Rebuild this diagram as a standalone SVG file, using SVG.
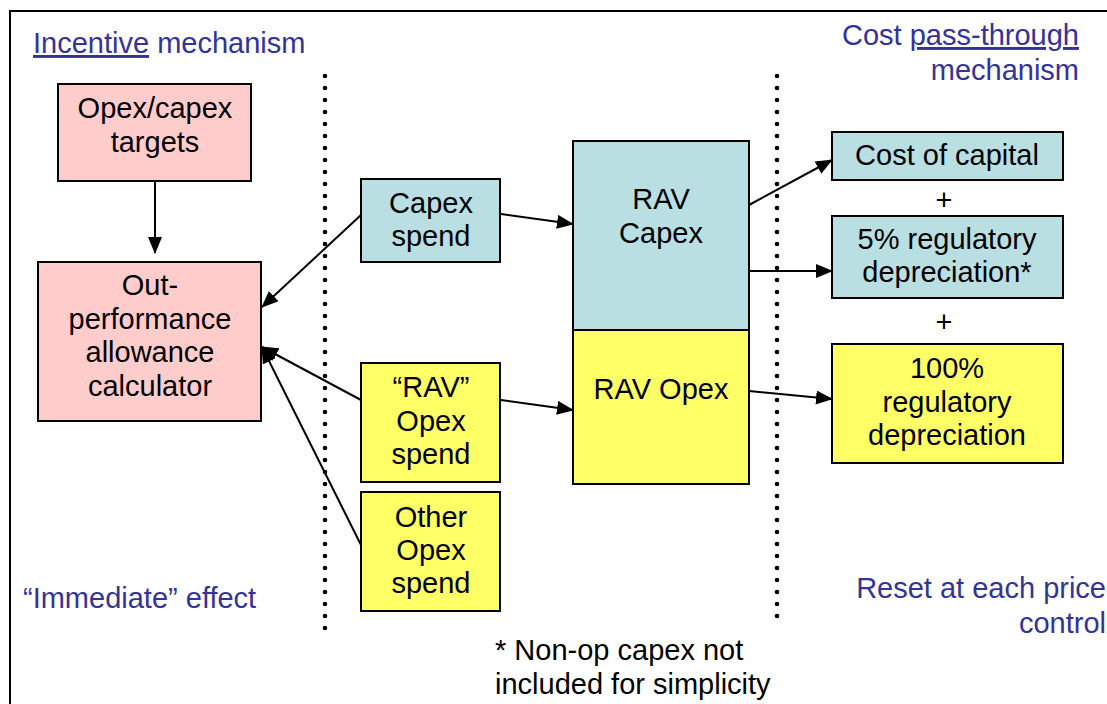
<svg xmlns="http://www.w3.org/2000/svg" width="1107" height="704" viewBox="0 0 1107 704">
<style>
text{font-family:"Liberation Sans",Arial,sans-serif;font-size:29px;fill:#000}
.c{text-anchor:middle}
.b{fill:#333399}
.r{text-anchor:end}
.box{stroke:#000;stroke-width:2}
.pink{fill:#FFCCCC}
.blue{fill:#B9DFE2}
.yel{fill:#FFFF66}
.dot{stroke:#000;stroke-width:4.6;stroke-linecap:round;stroke-dasharray:0 12;fill:none}
.con{stroke:#000;stroke-width:2;fill:none;marker-end:url(#ah)}
</style>
<defs>
<marker id="ah" markerUnits="userSpaceOnUse" markerWidth="18" markerHeight="14" refX="16" refY="7" orient="auto">
<path d="M0,0 L17,7 L0,14 z" fill="#000"/>
</marker>
</defs>
<rect width="1107" height="704" fill="#fff"/>
<g id="frame">
<line x1="9" y1="11" x2="1107" y2="11" stroke="#000" stroke-width="2"/>
<line x1="10" y1="10" x2="10" y2="704" stroke="#000" stroke-width="2"/>
<line class="dot" x1="325" y1="76" x2="325" y2="640"/>
<line class="dot" x1="777" y1="76" x2="777" y2="628"/>
</g>
<g id="labels">
<text x="33" y="53" class="b"><tspan text-decoration="underline">Incentive</tspan> mechanism</text>
<text x="1079" y="45" class="b r">Cost <tspan text-decoration="underline">pass-through</tspan></text>
<text x="1079" y="80" class="b r">mechanism</text>
<text x="23" y="608" class="b">“Immediate” effect</text>
<text x="1106" y="598" class="b r">Reset at each price</text>
<text x="1106" y="633" class="b r">control</text>
<text x="495" y="660">* Non-op capex not</text>
<text x="495" y="694">included for simplicity</text>
<text x="944" y="210" class="c">+</text>
<text x="944" y="332" class="c">+</text>
</g>
<g id="connectors">
<line class="con" x1="155" y1="181" x2="155" y2="253"/>
<line class="con" x1="361" y1="215" x2="262" y2="307"/>
<line class="con" x1="361" y1="400" x2="262" y2="347"/>
<line class="con" x1="361" y1="545" x2="262" y2="347"/>
<line class="con" x1="501" y1="214" x2="573" y2="224"/>
<line class="con" x1="501" y1="400" x2="573" y2="410"/>
<line class="con" x1="749" y1="205" x2="832" y2="160"/>
<line class="con" x1="749" y1="271" x2="832" y2="271"/>
<line class="con" x1="749" y1="391" x2="832" y2="399"/>
</g>
<g id="targets">
<rect class="box pink" x="58" y="84" width="193" height="97"/>
<text class="c" x="155" y="118">Opex/capex</text>
<text class="c" x="155" y="152">targets</text>
</g>
<g id="calculator">
<rect class="box pink" x="38" y="262" width="223" height="159"/>
<text class="c" x="150" y="295">Out-</text>
<text class="c" x="150" y="329">performance</text>
<text class="c" x="150" y="362">allowance</text>
<text class="c" x="150" y="396">calculator</text>
</g>
<g id="capex-spend">
<rect class="box blue" x="361" y="179" width="139" height="83"/>
<text class="c" x="431" y="213">Capex</text>
<text class="c" x="431" y="246">spend</text>
</g>
<g id="rav-opex-spend">
<rect class="box yel" x="361" y="363" width="139" height="119"/>
<text class="c" x="431" y="397">“RAV”</text>
<text class="c" x="431" y="431">Opex</text>
<text class="c" x="431" y="464">spend</text>
</g>
<g id="other-opex-spend">
<rect class="box yel" x="361" y="492" width="139" height="119"/>
<text class="c" x="431" y="527">Other</text>
<text class="c" x="431" y="560">Opex</text>
<text class="c" x="431" y="593">spend</text>
</g>
<g id="rav-capex">
<rect class="box blue" x="573" y="141" width="176" height="189"/>
<text class="c" x="661" y="209">RAV</text>
<text class="c" x="661" y="243">Capex</text>
</g>
<g id="rav-opex">
<rect class="box yel" x="573" y="330" width="176" height="154"/>
<text class="c" x="661" y="399">RAV Opex</text>
</g>
<g id="cost-of-capital">
<rect class="box blue" x="832" y="132" width="231" height="48"/>
<text class="c" x="947" y="165">Cost of capital</text>
</g>
<g id="five-pct">
<rect class="box blue" x="832" y="216" width="231" height="82"/>
<text class="c" x="947" y="249">5% regulatory</text>
<text class="c" x="947" y="282">depreciation*</text>
</g>
<g id="hundred-pct">
<rect class="box yel" x="832" y="344" width="231" height="119"/>
<text class="c" x="947" y="378">100%</text>
<text class="c" x="947" y="412">regulatory</text>
<text class="c" x="947" y="445">depreciation</text>
</g>
</svg>
